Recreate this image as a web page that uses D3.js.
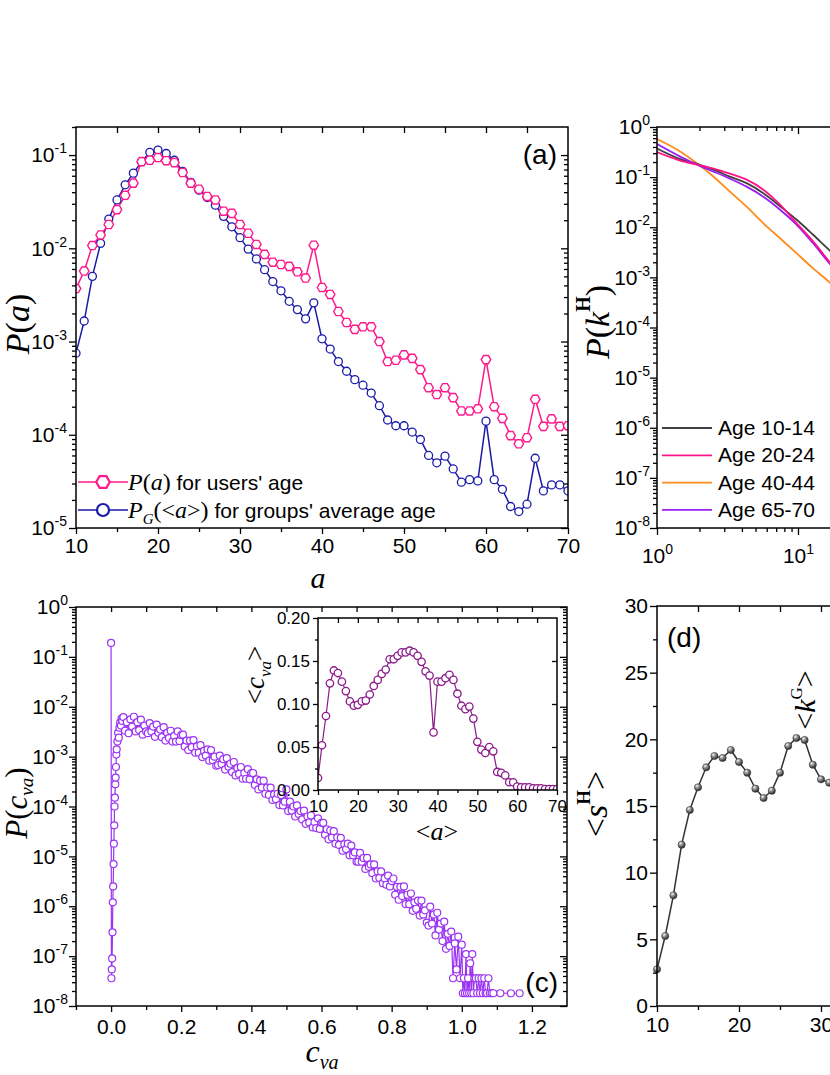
<!DOCTYPE html>
<html><head><meta charset="utf-8">
<script src="https://cdn.jsdelivr.net/npm/d3@7"></script>
<style>body{margin:0;background:#fff}svg{display:block}</style>
</head><body><svg id="chart" width="830" height="1075"></svg>
<script>
// ---------------- DATA ----------------
// (a) age distributions
const ages = [10,11,12,13,14,15,16,17,18,19,20,21,22,23,24,25,26,27,28,29,30,31,32,33,34,35,36,37,38,39,40,41,42,43,44,45,46,47,48,49,50,51,52,53,54,55,56,57,58,59,60,61,62,63,64,65,66,67,68,69,70];
const usersP = [0.0037,0.0057,0.0107,0.0139,0.018,0.026,0.037,0.050,0.085,0.088,0.094,0.087,0.083,0.065,0.050,0.043,0.036,0.033,0.025,0.0237,0.018,0.0145,0.011,0.0086,0.0071,0.0067,0.0064,0.0056,0.0048,0.0108,0.0038,0.0032,0.0021,0.0016,0.00135,0.00144,0.00144,0.0010,0.00061,0.00063,0.00072,0.00066,0.00050,0.00032,0.00027,0.00032,0.00025,0.00018,0.00018,0.00019,0.00064,0.00020,0.00015,0.000098,0.000080,0.000093,0.00024,0.000123,0.000148,0.000123,0.000125];
const groupsP = [0.00075,0.00166,0.0050,0.0113,0.0206,0.033,0.048,0.064,0.085,0.107,0.113,0.104,0.088,0.067,0.051,0.042,0.035,0.029,0.022,0.017,0.013,0.0098,0.0077,0.0059,0.0044,0.0035,0.0027,0.0022,0.00175,0.0026,0.00107,0.00083,0.00061,0.00048,0.00039,0.00034,0.00028,0.000205,0.000144,0.000125,0.000125,0.000107,0.000089,0.000060,0.000050,0.000059,0.000043,0.000031,0.000033,0.000032,0.00014,0.000033,0.000026,0.000017,0.000015,0.000018,0.000056,0.000025,0.000029,0.000029,0.000025];

// (b) degree distributions
const kVals  = [1,1.46,1.99,2.52,3.29,4.32,5.68,7.46,9.79,12.8,16.6,20];
const pAge10 = [0.372,0.229,0.178,0.141,0.102,0.0759,0.0479,0.0263,0.0141,0.00708,0.00355,0.0022];
const pAge20 = [0.316,0.214,0.174,0.148,0.117,0.0891,0.0562,0.0282,0.0120,0.00525,0.00209,0.0011];
const pAge40 = [0.575,0.324,0.174,0.102,0.0513,0.0257,0.0120,0.00603,0.00302,0.00151,0.000813,0.0005];
const pAge65 = [0.457,0.257,0.170,0.129,0.0933,0.0646,0.0407,0.0224,0.0112,0.00479,0.00195,0.0011];
const bLegend = ["Age 10-14","Age 20-24","Age 40-44","Age 65-70"];

// (c) P(c_va) : [c_va, P]
const cvaPoints = [
[0,1.9e-1],[0.001,3.6e-8],[0.002,5.4e-8],[0.003,9e-8],[0.004,3e-7],[0.005,1.2e-6],[0.006,2.5e-6],[0.007,7e-6],[0.008,1.8e-5],[0.009,4.2e-5],[0.010,1e-4],[0.011,1.5e-4],[0.012,2.8e-4],[0.013,3.8e-4],[0.014,6.2e-4],[0.015,1.1e-3],[0.016,1.4e-3],[0.018,2.0e-3],[0.020,3.0e-3],[0.022,2.4e-3],[0.024,3.8e-3],[0.026,4.8e-3],[0.028,4.2e-3],[0.030,5.8e-3],[0.032,5.2e-3],
[0.035,6.2e-3],[0.04,3.3e-3],[0.045,4.9e-3],[0.05,2.95e-3],[0.055,5.6e-3],[0.06,4.0e-3],[0.065,6.3e-3],[0.07,3.2e-3],[0.075,4.9e-3],[0.08,3.4e-3],[0.085,5.5e-3],[0.09,2.75e-3],[0.095,4.2e-3],[0.1,3.2e-3],
[0.105,2.95e-3],[0.11,4.7e-3],[0.115,3.2e-3],[0.12,4.0e-3],[0.125,2.5e-3],[0.13,4.4e-3],[0.135,3.0e-3],[0.14,3.5e-3],[0.145,2.45e-3],[0.15,3.9e-3],[0.155,2.1e-3],[0.16,3.0e-3],[0.165,2.35e-3],[0.17,3.3e-3],[0.175,2.0e-3],[0.18,2.6e-3],[0.185,2.0e-3],[0.19,3.2e-3],[0.195,2.05e-3],[0.2,2.7e-3],
[0.205,2.75e-3],[0.21,1.6e-3],[0.215,2.1e-3],[0.22,1.35e-3],[0.225,2.1e-3],[0.23,1.55e-3],[0.235,2.15e-3],[0.24,1.2e-3],[0.245,1.6e-3],[0.25,1.2e-3],[0.255,1.7e-3],[0.26,9.8e-4],[0.265,1.3e-3],[0.27,1.05e-3],[0.275,1.4e-3],[0.28,8.3e-4],[0.285,1.35e-3],[0.29,8.5e-4],[0.295,1.0e-3],[0.3,6.6e-4],
[0.305,6.8e-4],[0.31,1.05e-3],[0.315,7.1e-4],[0.32,8.9e-4],[0.325,5.5e-4],[0.33,9.3e-4],[0.335,6.3e-4],[0.34,7.2e-4],[0.345,4.9e-4],[0.35,7.8e-4],[0.355,4.2e-4],[0.36,5.9e-4],[0.365,4.5e-4],[0.37,6.2e-4],[0.375,3.6e-4],[0.38,4.7e-4],[0.385,3.6e-4],[0.39,5.6e-4],[0.395,3.5e-4],[0.4,4.7e-4],
[0.405,4.7e-4],[0.41,2.7e-4],[0.415,3.5e-4],[0.42,2.2e-4],[0.425,3.3e-4],[0.43,2.4e-4],[0.435,3.3e-4],[0.44,1.8e-4],[0.445,2.4e-4],[0.45,1.7e-4],[0.455,2.4e-4],[0.46,1.35e-4],[0.465,1.75e-4],[0.47,1.4e-4],[0.475,1.8e-4],[0.48,1.07e-4],[0.485,1.7e-4],[0.49,1.05e-4],[0.495,1.25e-4],[0.5,2.2e-4],
[0.505,8.1e-5],[0.51,1.25e-4],[0.515,8.3e-5],[0.52,1.0e-4],[0.525,6.3e-5],[0.53,1.05e-4],[0.535,7.1e-5],[0.54,8.1e-5],[0.545,5.5e-5],[0.55,8.3e-5],[0.555,4.5e-5],[0.56,6.3e-5],[0.565,4.8e-5],[0.57,6.6e-5],[0.575,3.8e-5],[0.58,4.9e-5],[0.585,3.7e-5],[0.59,5.8e-5],[0.595,3.55e-5],[0.6,4.7e-5],
[0.605,4.7e-5],[0.61,2.7e-5],[0.615,3.5e-5],[0.62,2.2e-5],[0.625,3.3e-5],[0.63,2.4e-5],[0.635,3.2e-5],[0.64,1.8e-5],[0.645,2.4e-5],[0.65,1.7e-5],[0.655,2.35e-5],[0.66,1.3e-5],[0.665,1.75e-5],[0.67,1.4e-5],[0.675,1.8e-5],[0.68,1.05e-5],[0.685,1.65e-5],[0.69,1.05e-5],[0.695,1.2e-5],[0.7,7.8e-6],
[0.705,7.8e-6],[0.71,1.17e-5],[0.715,7.8e-6],[0.72,9.3e-6],[0.725,5.6e-6],[0.73,9.3e-6],[0.735,6.2e-6],[0.74,6.9e-6],[0.745,4.6e-6],[0.75,6.9e-6],[0.755,3.6e-6],[0.76,5.0e-6],[0.765,3.7e-6],[0.77,5.0e-6],[0.775,2.9e-6],[0.78,3.6e-6],[0.785,2.7e-6],[0.79,4.1e-6],[0.795,2.5e-6],[0.8,3.2e-6],
[0.805,3.6e-6],[0.81,1.7e-6],[0.815,2.45e-6],[0.82,1.35e-6],[0.825,2.45e-6],[0.83,1.6e-6],[0.835,2.5e-6],[0.84,1.1e-6],[0.845,1.7e-6],[0.85,1.1e-6],[0.855,1.8e-6],[0.86,8.1e-7],[0.865,1.2e-6],[0.87,8.9e-7],[0.875,1.3e-6],[0.88,6.5e-7],[0.885,1.3e-6],[0.89,6.8e-7],[0.895,8.3e-7],[0.9,4.7e-7],
[0.905,4.1e-7],[0.91,9.8e-7],[0.915,4.5e-7],[0.92,6.8e-7],[0.925,2.6e-7],[0.93,7.4e-7],[0.935,3.4e-7],[0.94,4.5e-7],[0.945,2.0e-7],[0.95,4.9e-7],[0.955,1.4e-7],[0.96,2.8e-7],[0.965,1.6e-7],[0.97,3.1e-7],[0.975,3.6e-8],[0.98,1.8e-7],[0.985,5.4e-8],[0.99,2.45e-7],[0.995,3.6e-8],[1.0,1.7e-7],
[1.003,1.8e-8],[1.006,3.6e-8],[1.009,1.8e-8],[1.012,1.1e-7],[1.015,1.8e-8],[1.018,3.6e-8],[1.021,1.8e-8],[1.024,7.2e-8],[1.027,1.8e-8],[1.030,1.1e-7],[1.033,1.8e-8],[1.036,3.6e-8],[1.040,3.6e-8],[1.044,1.8e-8],[1.048,3.6e-8],[1.052,1.8e-8],[1.056,3.6e-8],[1.060,1.8e-8],[1.064,3.6e-8],[1.068,1.8e-8],[1.072,1.8e-8],[1.076,3.6e-8],[1.080,1.8e-8],[1.085,1.8e-8],[1.090,1.8e-8],[1.110,1.8e-8],[1.140,1.8e-8],[1.165,1.8e-8]
];

// (c) inset: <c_va> vs <a>
const insetAges = ages;
const insetCva = [0.014,0.052,0.086,0.124,0.139,0.136,0.126,0.115,0.103,0.098,0.099,0.103,0.104,0.111,0.121,0.128,0.135,0.140,0.152,0.152,0.156,0.160,0.160,0.162,0.160,0.156,0.149,0.138,0.133,0.067,0.126,0.126,0.130,0.134,0.128,0.112,0.098,0.094,0.097,0.083,0.056,0.047,0.043,0.050,0.045,0.021,0.020,0.017,0.009,0.009,0.004,0.003,0.003,0.003,0.002,0.002,0.002,0.001,0.001,0.001,0.001];

// (d) <s^H> vs age
const dAges = [10,11,12,13,14,15,16,17,18,19,20,21,22,23,24,25,26,27,28,29,30,31];
const dS = [2.75,5.25,8.3,12.1,14.7,16.4,17.9,18.75,18.6,19.2,18.3,17.5,16.3,15.6,16.15,17.5,19.5,20.1,19.95,18.1,17.0,16.75];

// ---------------- DRAWING ----------------
const SANS='"Liberation Sans", Arial, Helvetica, sans-serif';
const SERIF='"Liberation Serif", "Times New Roman", Times, serif';
const PINK="#ff1a8c", BLUE="#1a1aa8", VIOLET="#9a33f2", INSET="#8a1a8a";
const svg=d3.select("#chart");
svg.append("rect").attr("width",830).attr("height",1075).attr("fill","#fff");
const defs=svg.append("defs");
const grad=defs.append("radialGradient").attr("id","ball").attr("cx","35%").attr("cy","30%").attr("r","70%");
grad.append("stop").attr("offset","0%").attr("stop-color","#f4f4f4");
grad.append("stop").attr("offset","45%").attr("stop-color","#8a8a8a");
grad.append("stop").attr("offset","100%").attr("stop-color","#2a2a2a");

function clip(id,x,y,w,h){defs.append("clipPath").attr("id",id).append("rect").attr("x",x).attr("y",y).attr("width",w).attr("height",h);return `url(#${id})`;}
function ax(gen,tx,ty,vals,size,pad,fs,fmt){
  const a=svg.append("g").attr("transform",`translate(${tx},${ty})`)
    .call(gen.tickValues(vals).tickSizeInner(size).tickSizeOuter(0).tickPadding(pad).tickFormat(fmt||(()=>"")));
  a.select(".domain").remove();
  a.selectAll(".tick line").attr("stroke","#000").attr("stroke-width",1.3);
  a.selectAll(".tick text").attr("font-size",fs||21).attr("font-family",SANS).attr("fill","#000");
  return a;
}
function powLabels(a,supFs,supDy){
  a.selectAll(".tick text").each(function(d){
    const t=d3.select(this); t.text(null);
    t.append("tspan").text("10");
    t.append("tspan").attr("dy",-supDy).attr("font-size",supFs).text(Math.round(Math.log10(d)));
  });
}
function minorLog(e0,e1){const v=[];for(let e=e0;e<e1;e++)for(let m=2;m<=9;m++)v.push(m*Math.pow(10,e));return v;}
function decades(e0,e1){const v=[];for(let e=e0;e<=e1;e++)v.push(Math.pow(10,e));return v;}
function frame(x0,y0,x1,y1){svg.append("rect").attr("x",x0).attr("y",y0).attr("width",x1-x0).attr("height",y1-y0).attr("fill","none").attr("stroke","#000").attr("stroke-width",1.5);}
function rich(x,y,parts,o={}){
  const t=svg.append("text").attr("x",x).attr("y",y).attr("text-anchor",o.anchor||"middle")
    .attr("font-family",o.family||SERIF).attr("font-size",o.size||30).attr("fill","#000");
  if(o.rotate) t.attr("transform",`rotate(${o.rotate},${x},${y})`);
  let cur=0;
  parts.forEach(p=>{
    const s=t.append("tspan").text(p.t);
    const sh=p.sh||0; if(sh!==cur){s.attr("dy",sh-cur);cur=sh;}
    if(p.i) s.attr("font-style","italic");
    if(p.b) s.attr("font-weight","bold");
    if(p.s) s.attr("font-size",p.s);
    if(p.f) s.attr("font-family",p.f);
  });
  return t;
}
const hexType={draw(ctx,size){const r=Math.sqrt(size*2/(3*Math.sqrt(3)));for(let i=0;i<6;i++){const a=Math.PI/3*i;const x=r*Math.cos(a),y=r*Math.sin(a);i?ctx.lineTo(x,y):ctx.moveTo(x,y);}ctx.closePath();}};
const hexPath=d3.symbol().type(hexType).size(58);

// ===== Panel (a) =====
const A={x0:76,x1:568,y0:127,y1:528};
const xA=d3.scaleLinear().domain([10,70]).range([A.x0,A.x1]);
const yA=d3.scaleLog().domain([1e-5,0.2]).range([A.y1,A.y0]);
const gA=svg.append("g").attr("clip-path",clip("ca",A.x0,A.y0,A.x1-A.x0,A.y1-A.y0));
const lineA=(vals)=>d3.line().x((d,i)=>xA(ages[i])).y(d=>yA(d))(vals);
gA.append("path").attr("d",lineA(groupsP)).attr("fill","none").attr("stroke",BLUE).attr("stroke-width",1.5);
gA.append("path").attr("d",lineA(usersP)).attr("fill","none").attr("stroke",PINK).attr("stroke-width",1.5);
gA.selectAll(".bp").data(groupsP).join("circle").attr("cx",(d,i)=>xA(ages[i])).attr("cy",d=>yA(d)).attr("r",4)
  .attr("fill","#fff").attr("stroke",BLUE).attr("stroke-width",1.3);
gA.selectAll(".pp").data(usersP).join("path").attr("d",hexPath).attr("transform",(d,i)=>`translate(${xA(ages[i])},${yA(d)})`)
  .attr("fill","#fff").attr("stroke",PINK).attr("stroke-width",1.4);
ax(d3.axisBottom(xA),0,A.y1,[10,20,30,40,50,60,70],6,4,21,d=>d);
ax(d3.axisBottom(xA),0,A.y1,[15,25,35,45,55,65],4,4);
ax(d3.axisBottom(xA),0,A.y0,[15,20,25,30,35,40,45,50,55,60,65],6,0);
powLabels(ax(d3.axisLeft(yA),A.x0,0,decades(-5,-1),7,2,21,()=>"x"),14,9);
ax(d3.axisLeft(yA),A.x0,0,minorLog(-5,-1).concat([0.2]),4,0);
ax(d3.axisLeft(yA),A.x1,0,decades(-5,-1),7,0);
ax(d3.axisLeft(yA),A.x1,0,minorLog(-5,-1),4,0);
frame(A.x0,A.y0,A.x1,A.y1);
rich(318,588,[{t:"a",i:1}],{size:30});
rich(29,324,[{t:"P",i:1},{t:"("},{t:"a",i:1},{t:")"}],{size:34,rotate:-90});
svg.append("text").attr("x",557).attr("y",164).attr("text-anchor","end").attr("font-family",SANS).attr("font-size",28).text("(a)");
svg.append("line").attr("x1",78).attr("x2",128).attr("y1",482).attr("y2",482).attr("stroke",PINK).attr("stroke-width",1.5);
svg.append("path").attr("d",d3.symbol().type(hexType).size(120)).attr("transform","translate(103,482)").attr("fill","#fff").attr("stroke",PINK).attr("stroke-width",2.2);
rich(128,490,[{t:"P",i:1},{t:"("},{t:"a",i:1},{t:")"},{t:" for users' age",f:SANS,s:21}],{anchor:"start",size:24});
svg.append("line").attr("x1",78).attr("x2",128).attr("y1",510).attr("y2",510).attr("stroke",BLUE).attr("stroke-width",1.5);
svg.append("circle").attr("cx",103).attr("cy",510).attr("r",6).attr("fill","#fff").attr("stroke",BLUE).attr("stroke-width",2.2);
rich(128,518,[{t:"P",i:1},{t:"G",i:1,s:15,sh:6},{t:"(<",sh:0},{t:"a",i:1},{t:">)"},{t:" for groups' average age",f:SANS,s:21}],{anchor:"start",size:24});

// ===== Panel (b) =====
const B={x0:657,y0:127,y1:528};
const xB=d3.scaleLog().domain([1,1000]).range([B.x0,B.x0+423]);
const yB=d3.scaleLog().domain([1e-8,1]).range([B.y1,B.y0]);
const gB=svg.append("g").attr("clip-path",clip("cb",B.x0,B.y0,400,B.y1-B.y0));
const bSeries=[{p:pAge10,c:"#404040"},{p:pAge20,c:"#ff1485"},{p:pAge40,c:"#ff8c1a"},{p:pAge65,c:"#9b1cf5"}];
const lineB=d3.line().x((d,i)=>xB(kVals[i])).y(d=>yB(d)).curve(d3.curveMonotoneX);
[bSeries[2],bSeries[0],bSeries[3],bSeries[1]].forEach(s=>gB.append("path").attr("d",lineB(s.p)).attr("fill","none").attr("stroke",s.c).attr("stroke-width",1.8));
powLabels(ax(d3.axisBottom(xB),0,B.y1,[1,10],7,13,21,()=>"x"),14,9);
ax(d3.axisBottom(xB),0,B.y1,[2,3,4,5,6,7,8,9,20,30],4,0);
ax(d3.axisBottom(xB),0,B.y0,[2,3,4,5,6,7,8,9,20,30],4,0);
ax(d3.axisBottom(xB),0,B.y0,[10,100],7,0);
powLabels(ax(d3.axisLeft(yB),B.x0,0,decades(-8,0),7,0,21,()=>"x"),14,9);
ax(d3.axisLeft(yB),B.x0,0,minorLog(-8,0),4,0);
frame(B.x0,B.y0,B.x0+500,B.y1);
rich(609,322,[{t:"P",i:1},{t:"("},{t:"k",i:1},{t:"H",b:1,s:20,sh:-19},{t:")",sh:0}],{size:34,rotate:-90});
bLegend.forEach((name,i)=>{
  const y=428+i*27.3;
  svg.append("line").attr("x1",662).attr("x2",712).attr("y1",y).attr("y2",y).attr("stroke",bSeries[i].c).attr("stroke-width",1.8);
  svg.append("text").attr("x",718).attr("y",y+7).attr("font-family",SANS).attr("font-size",21).text(name);
});

// ===== Panel (c) =====
const C={x0:76,x1:567,y0:607,y1:1006};
const xC=d3.scaleLinear().domain([-0.1,1.3]).range([C.x0,C.x1]);
const yC=d3.scaleLog().domain([1e-8,1]).range([C.y1,C.y0]);
const gC=svg.append("g").attr("clip-path",clip("cc",C.x0,C.y0,C.x1-C.x0,C.y1-C.y0));
gC.append("path").attr("d",d3.line().x(d=>xC(d[0])).y(d=>yC(d[1]))(cvaPoints)).attr("fill","none").attr("stroke",VIOLET).attr("stroke-width",1.2);
gC.selectAll(".cp").data(cvaPoints).join("circle").attr("cx",d=>xC(d[0])).attr("cy",d=>yC(d[1])).attr("r",3.5)
  .attr("fill","#fff").attr("stroke",VIOLET).attr("stroke-width",1.2);
ax(d3.axisBottom(xC),0,C.y1,[0,0.2,0.4,0.6,0.8,1.0,1.2],6,7,21,d3.format(".1f"));
ax(d3.axisBottom(xC),0,C.y1,[-0.1,0.1,0.3,0.5,0.7,0.9,1.1],4,0);
ax(d3.axisBottom(xC),0,C.y0,[0,0.1,0.2,0.3,0.4,0.5,0.6,0.7,0.8,0.9,1.0,1.1,1.2],5,0);
powLabels(ax(d3.axisLeft(yC),C.x0,0,decades(-8,0),7,1,21,()=>"x"),14,9);
ax(d3.axisLeft(yC),C.x0,0,minorLog(-8,0),4,0);
ax(d3.axisRight(yC),C.x1,0,decades(-8,0),-7,0);
ax(d3.axisRight(yC),C.x1,0,minorLog(-8,0),-4,0);
frame(C.x0,C.y0,C.x1,C.y1);
rich(27,803,[{t:"P",i:1},{t:"("},{t:"c",i:1},{t:"va",i:1,s:19,sh:6},{t:")",sh:0}],{size:31,rotate:-90});
rich(322,1062,[{t:"c",i:1},{t:"va",i:1,s:20,sh:7}],{size:32});
svg.append("text").attr("x",558).attr("y",992).attr("text-anchor","end").attr("font-family",SANS).attr("font-size",28).text("(c)");

// inset
const I={x0:318,x1:557,y0:618,y1:790};
const xI=d3.scaleLinear().domain([10,70]).range([I.x0,I.x1]);
const yI=d3.scaleLinear().domain([0,0.2]).range([I.y1,I.y0]);
svg.append("rect").attr("x",I.x0).attr("y",I.y0).attr("width",I.x1-I.x0).attr("height",I.y1-I.y0).attr("fill","#fff");
const gI=svg.append("g").attr("clip-path",clip("ci",I.x0,I.y0,I.x1-I.x0,I.y1-I.y0));
gI.append("path").attr("d",d3.line().x((d,i)=>xI(insetAges[i])).y(d=>yI(d))(insetCva)).attr("fill","none").attr("stroke",INSET).attr("stroke-width",1.2);
gI.selectAll(".ip").data(insetCva).join("circle").attr("cx",(d,i)=>xI(insetAges[i])).attr("cy",d=>yI(d)).attr("r",3.7)
  .attr("fill","#fff").attr("stroke",INSET).attr("stroke-width",1.3);
ax(d3.axisBottom(xI),0,I.y1,[10,20,30,40,50,60,70],5,5,17,d=>d);
ax(d3.axisBottom(xI),0,I.y1,[15,25,35,45,55,65],3,0);
ax(d3.axisBottom(xI),0,I.y0,[15,20,25,30,35,40,45,50,55,60,65],5,0);
ax(d3.axisLeft(yI),I.x0,0,[0,0.05,0.1,0.15,0.2],5,3,17,d3.format(".2f"));
ax(d3.axisLeft(yI),I.x0,0,[0.025,0.075,0.125,0.175],3,0);
ax(d3.axisRight(yI),I.x1,0,[0.05,0.1,0.15],-5,0);
frame(I.x0,I.y0,I.x1,I.y1);
rich(437,840,[{t:"<"},{t:"a",i:1},{t:">"}],{size:26});
rich(264,675,[{t:"<"},{t:"c",i:1},{t:"va",i:1,s:17,sh:7},{t:">",sh:0}],{size:27,rotate:-90});

// ===== Panel (d) =====
const D={x0:657,y0:606,y1:1006};
const xD=d3.scaleLinear().domain([10,70]).range([D.x0,D.x0+492]);
const yD=d3.scaleLinear().domain([0,30]).range([D.y1,D.y0]);
const gD=svg.append("g").attr("clip-path",clip("cd",D.x0-6,D.y0,400,D.y1-D.y0+6));
gD.append("path").attr("d",d3.line().x((d,i)=>xD(dAges[i])).y(d=>yD(d))(dS)).attr("fill","none").attr("stroke","#333").attr("stroke-width",1.5);
gD.selectAll(".dp").data(dS).join("circle").attr("cx",(d,i)=>xD(dAges[i])).attr("cy",d=>yD(d)).attr("r",3.6)
  .attr("fill","url(#ball)").attr("stroke","#333").attr("stroke-width",0.6);
ax(d3.axisBottom(xD),0,D.y1,[10,20,30,40],6,5,21,d=>d);
ax(d3.axisBottom(xD),0,D.y1,[15,25,35],4,0);
ax(d3.axisBottom(xD),0,D.y0,[15,20,25,30,35],6,0);
ax(d3.axisLeft(yD),D.x0,0,[0,5,10,15,20,25,30],7,2,21,d=>d);
ax(d3.axisLeft(yD),D.x0,0,[2.5,7.5,12.5,17.5,22.5,27.5],4,0);
frame(D.x0,D.y0,D.x0+500,D.y1);
rich(607,804,[{t:"<"},{t:"s",i:1},{t:"H",b:1,s:19,sh:-17},{t:">",sh:0}],{size:34,rotate:-90});
rich(815,700,[{t:"<"},{t:"k",i:1},{t:"G",s:17,sh:-13},{t:">",sh:0}],{size:30,rotate:-90});
svg.append("text").attr("x",667).attr("y",647).attr("font-family",SANS).attr("font-size",28).text("(d)");
</script></body></html>
